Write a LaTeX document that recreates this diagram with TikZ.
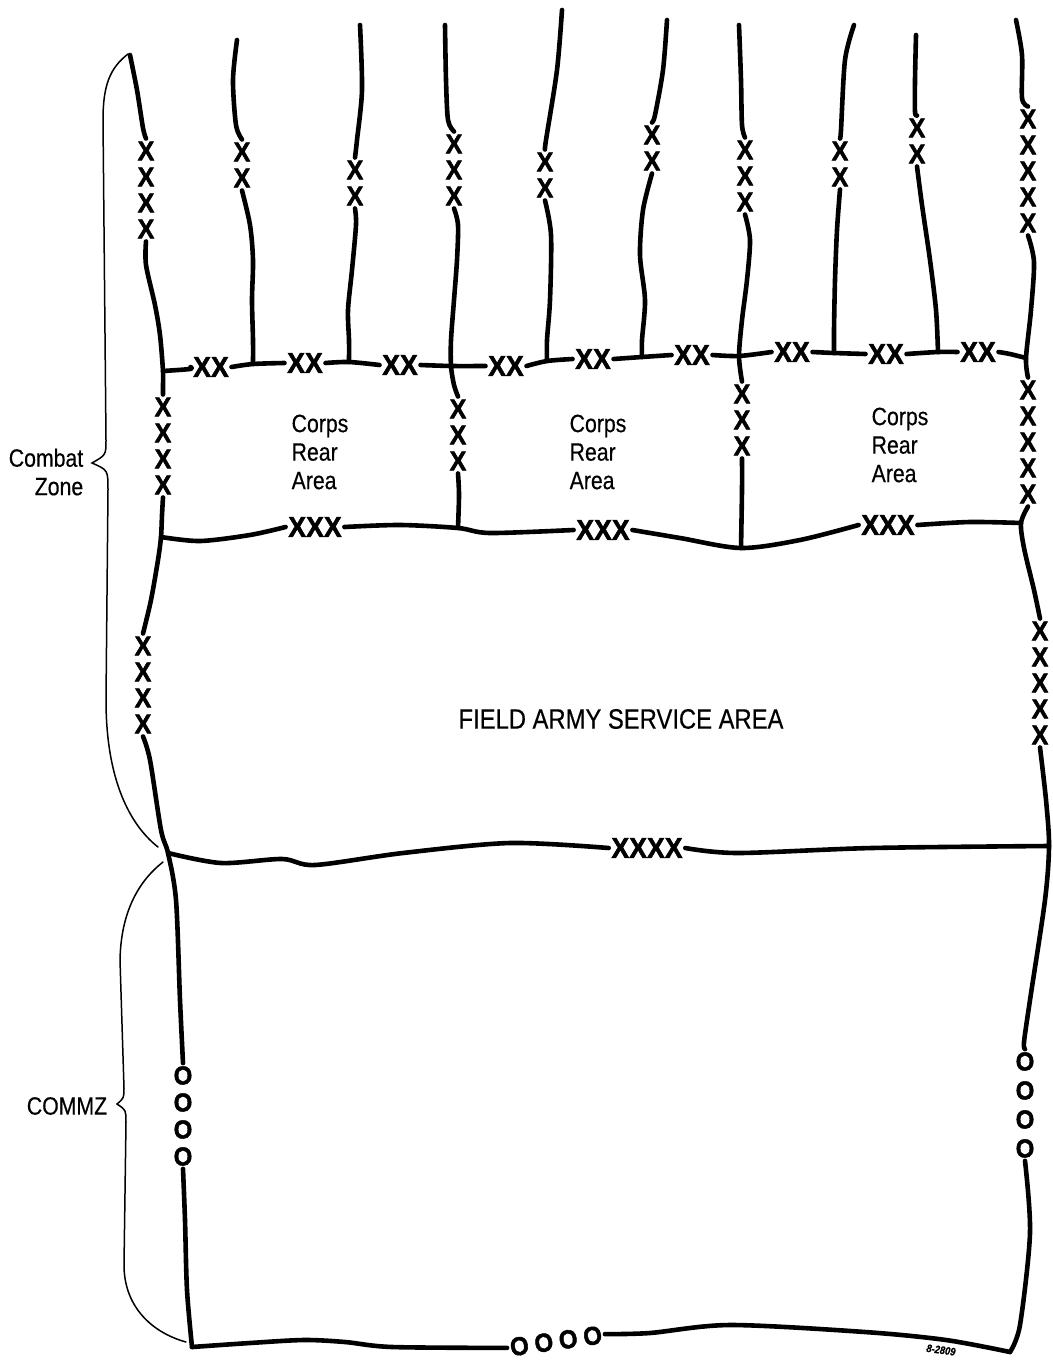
\documentclass[tikz,border=0pt]{standalone}
\usepackage{fontspec}
\setmainfont{Liberation Sans}
\newfontfamily\labfont[FakeStretch=0.85,FakeBold=0.4]{Liberation Sans}
\newfontfamily\markfont[FakeStretch=0.92,FakeBold=1.8]{Liberation Sans}
\begin{document}
\begin{tikzpicture}[x=1pt,y=-1pt,
  bnd/.style={line width=4.6pt, line cap=round, line join=round},
  brc/.style={line width=1.5pt, line cap=round},
  xs/.style={font={\markfont\bfseries\fontsize{27}{26}\selectfont}, align=center, inner sep=3pt},
  xh/.style={font={\markfont\bfseries\fontsize{29}{29}\selectfont}, inner sep=2.5pt},
  os/.style={font={\markfont\bfseries\fontsize{26}{#1}\selectfont}, align=center, inner sep=3pt},
  lbl/.style={font={\labfont\fontsize{25}{28.5}\selectfont}, inner sep=0pt},
  sig/.style={font={\labfont\bfseries\itshape\fontsize{11}{12}\selectfont}, inner sep=0pt}]
\useasboundingbox (0,0) rectangle (1052,1362);

% ---------- free ends (tops) ----------
\coordinate (eA) at (130,55);
\coordinate (eB) at (237,40);
\coordinate (eC) at (360,25);
\coordinate (eD) at (445,25);
\coordinate (eE) at (562,10);
\coordinate (eF) at (667,20);
\coordinate (eG) at (739,25);
\coordinate (eH) at (854,25);
\coordinate (eI) at (916,35);
\coordinate (eJ) at (1016,20);

% ---------- junctions ----------
\coordinate (jA) at (163,371);
\coordinate (jB) at (253,364);
\coordinate (jC) at (349,362);
\coordinate (jD) at (451,366);
\coordinate (jE) at (547,361);
\coordinate (jF) at (642,357);
\coordinate (jG) at (739,356);
\coordinate (jH) at (834,353);
\coordinate (jI) at (938,352);
\coordinate (jJ) at (1026,358);
\coordinate (kA) at (161,537);
\coordinate (kD) at (458,528);
\coordinate (kG) at (741,548);
\coordinate (kJ) at (1021,523);
\coordinate (lA) at (168,853);
\coordinate (lJ) at (1049,846);
\coordinate (cBL) at (192,1347);
\coordinate (cBR) at (1010,1352);

% ---------- boundary marks ----------
\node[xs] (tA) at (146,190) {X\\X\\X\\X};
\node[xs] (tB) at (242,165) {X\\X};
\node[xs] (tC) at (355,183) {X\\X};
\node[xs] (tD) at (454,170) {X\\X\\X};
\node[xs] (tE) at (545,175) {X\\X};
\node[xs] (tF) at (652,148) {X\\X};
\node[xs] (tG) at (745,176) {X\\X\\X};
\node[xs] (tH) at (840,164) {X\\X};
\node[xs] (tI) at (917,141) {X\\X};
\node[xs] (tJ) at (1028,171) {X\\X\\X\\X\\X};

\node[xh] (h1) at (211,367) {XX};
\node[xh] (h2) at (305,363) {XX};
\node[xh] (h3) at (400,365) {XX};
\node[xh] (h4) at (506,366) {XX};
\node[xh] (h5) at (593,359) {XX};
\node[xh] (h6) at (692,355) {XX};
\node[xh] (h7) at (792,352) {XX};
\node[xh] (h8) at (886,354) {XX};
\node[xh] (h9) at (978,352) {XX};

\node[xs] (mA) at (163,446) {X\\X\\X\\X};
\node[xs] (mD) at (458,435) {X\\X\\X};
\node[xs] (mG) at (742,420) {X\\X\\X};
\node[xs] (mJ) at (1028,442) {X\\X\\X\\X\\X};

\node[xh] (p1) at (315,527) {XXX};
\node[xh] (p2) at (603,530) {XXX};
\node[xh] (p3) at (888,525) {XXX};

\node[xs] (bA) at (143,685) {X\\X\\X\\X};
\node[xs] (bJ) at (1040,683) {X\\X\\X\\X\\X};

\node[xh] (q) at (647,848) {XXXX};

\node[os=27] (oA) at (183,1116) {O\\O\\O\\O};
\node[os=29] (oJ) at (1025,1105) {O\\O\\O\\O};
\node[os=27, rotate=8] (oB) at (556,1341) {O\hspace{6pt}O\hspace{6pt}O\hspace{6pt}O};

% ---------- upper division lines ----------
\draw[bnd] plot[smooth] coordinates {(eA) (137,90) (143,128) (tA.north)};
\draw[bnd] plot[smooth] coordinates {(eB) (233,80) (236,125) (tB.north)};
\draw[bnd] plot[smooth] coordinates {(eC) (362,90) (357,140) (tC.north)};
\draw[bnd] plot[smooth] coordinates {(eD) (446,80) (448,120) (tD.north)};
\draw[bnd] plot[smooth] coordinates {(eE) (557,70) (546,140) (tE.north)};
\draw[bnd] plot[smooth] coordinates {(eF) (663,70) (655,115) (tF.north)};
\draw[bnd] plot[smooth] coordinates {(eG) (741,80) (742,125) (tG.north)};
\draw[bnd] plot[smooth] coordinates {(eH) (845,60) (841,130) (tH.north)};
\draw[bnd] plot[smooth] coordinates {(eI) (915,80) (915,112) (tI.north)};
\draw[bnd] plot[smooth] coordinates {(eJ) (1022,55) (1022,98) (tJ.north)};

\draw[bnd] plot[smooth] coordinates {(tA.south) (146,265) (155,305) (160,335) (jA) (163,385) (mA.north)};
\draw[bnd] plot[smooth] coordinates {(tB.south) (250,225) (253,260) (252,300) (253,340) (jB)};
\draw[bnd] plot[smooth] coordinates {(tC.south) (356,225) (352,270) (348,310) (349,340) (jC)};
\draw[bnd] plot[smooth] coordinates {(tD.south) (458,225) (457,260) (454,300) (451,340) (jD) (454,385) (mD.north)};
\draw[bnd] plot[smooth] coordinates {(tE.south) (551,235) (550,300) (547,340) (jE)};
\draw[bnd] plot[smooth] coordinates {(tF.south) (643,210) (640,255) (645,300) (642,340) (jF)};
\draw[bnd] plot[smooth] coordinates {(tG.south) (750,240) (747,280) (742,320) (jG) (mG.north)};
\draw[bnd] plot[smooth] coordinates {(tH.south) (837,230) (835,280) (834,330) (jH)};
\draw[bnd] plot[smooth] coordinates {(tI.south) (922,205) (930,260) (936,310) (jI)};
\draw[bnd] plot[smooth] coordinates {(tJ.south) (1034,262) (1031,310) (jJ) (mJ.north)};

% ---------- division rear boundary ----------
\draw[bnd] plot[smooth] coordinates {(jA) (190,369) (h1.west)};
\draw[bnd] plot[smooth] coordinates {(h1.east) (jB) (h2.west)};
\draw[bnd] plot[smooth] coordinates {(h2.east) (jC) (h3.west)};
\draw[bnd] plot[smooth] coordinates {(h3.east) (jD) (h4.west)};
\draw[bnd] plot[smooth] coordinates {(h4.east) (jE) (h5.west)};
\draw[bnd] plot[smooth] coordinates {(h5.east) (jF) (h6.west)};
\draw[bnd] plot[smooth] coordinates {(h6.east) (jG) (h7.west)};
\draw[bnd] plot[smooth] coordinates {(h7.east) (jH) (h8.west)};
\draw[bnd] plot[smooth] coordinates {(h8.east) (jI) (h9.west)};
\draw[bnd] plot[smooth] coordinates {(h9.east) (1010,354) (jJ)};

% ---------- corps lines ----------
\draw[bnd] plot[smooth] coordinates {(mA.south) (162,515) (kA) (158,560) (151,600) (bA.north)};
\draw[bnd] plot[smooth] coordinates {(mD.south) (459,495) (kD)};
\draw[bnd] plot[smooth] coordinates {(mG.south) (742,490) (kG)};
\draw[bnd] plot[smooth] coordinates {(bJ.north) (1034,590) (1024,548) (kJ) (mJ.south)};

\draw[bnd] plot[smooth] coordinates {(kA) (200,541) (250,535) (p1.west)};
\draw[bnd] plot[smooth] coordinates {(p1.east) (400,525) (kD) (490,533) (p2.west)};
\draw[bnd] plot[smooth] coordinates {(p2.east) (680,538) (kG) (800,540) (p3.west)};
\draw[bnd] plot[smooth] coordinates {(p3.east) (970,522) (kJ)};

% ---------- army rear boundary ----------
\draw[bnd] plot[smooth] coordinates {(bA.south) (150,760) (161,830) (lA) (176,900) (180,1000) (oA.north)};
\draw[bnd] plot[smooth] coordinates {(oJ.north) (1024,1042) (1030,1000) (1045,900) (lJ) (1046,800) (bJ.south)};
\draw[bnd] plot[smooth] coordinates {(lA) (221,863) (282,859) (315,865) (403,853) (510,843) (q.west)};
\draw[bnd] plot[smooth] coordinates {(q.east) (738,853) (872,848) (lJ)};

% ---------- COMMZ ----------
\draw[bnd] plot[smooth] coordinates {(oA.south) (185,1220) (187,1290) (cBL)};
\draw[bnd] plot[smooth] coordinates {(cBL) (250,1343) (304,1340) (345,1342) (392,1347) (oB.west)};
\draw[bnd] plot[smooth] coordinates {(oB.east) (650,1333) (730,1325) (865,1332) (946,1340) (cBR)};
\draw[bnd] plot[smooth] coordinates {(cBR) (1020,1325) (1030,1233) (oJ.south)};

% ---------- braces ----------
\coordinate (bz1) at (128,54);
\coordinate (bzt) at (92,463);
\coordinate (bz2) at (158,847);
\draw[brc] (bz1) .. controls (110,68) and (103,85) .. (103,120) -- (106,440)
  .. controls (106,455) .. (bzt) .. controls (108,470) .. (108,490) -- (106,700)
  .. controls (106,780) and (130,825) .. (bz2);
\coordinate (cz1) at (163,862);
\coordinate (czt) at (117,1104);
\coordinate (cz2) at (186,1342);
\draw[brc] (cz1) .. controls (140,880) and (121,910) .. (120,960) -- (124,1088)
  .. controls (124,1098) .. (czt) .. controls (126,1110) .. (126,1122) -- (124,1265)
  .. controls (124,1305) and (150,1332) .. (cz2);

% ---------- labels ----------
\node[lbl, align=right] (combat) at (46,472) {Combat\\Zone};
\node[lbl] (commz) at (67,1106) {COMMZ};
\node[lbl, align=left] (corps1) at (320,452) {Corps\\Rear\\Area};
\node[lbl, align=left] (corps2) at (598,452) {Corps\\Rear\\Area};
\node[lbl, align=left] (corps3) at (900,445) {Corps\\Rear\\Area};
\node[lbl, font={\labfont\fontsize{28}{30}\selectfont}] (fasa) at (621,719) {FIELD ARMY SERVICE AREA};
\node[sig, rotate=-8] (sig) at (941,1350) {8-2809};
\end{tikzpicture}
\end{document}
